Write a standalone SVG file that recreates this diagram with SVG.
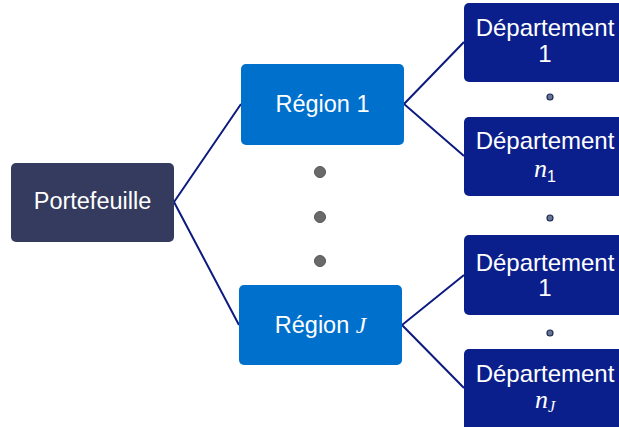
<svg xmlns="http://www.w3.org/2000/svg" width="619" height="427" viewBox="0 0 619 427">
<style>
.t{font-family:"Liberation Sans",Arial,sans-serif;fill:#ffffff;text-anchor:middle}
.m{font-family:"Liberation Serif","Times New Roman",serif;font-style:italic}
.c{stroke:#0d1a80;stroke-width:2;fill:none}
.port{fill:#343b5e}
.reg{fill:#0070cd}
.dep{fill:#0b1f8c}
.bd{fill:#6a6a6a;stroke:#555;stroke-width:1}
.sd{fill:#6a7590;stroke:#1e2a5a;stroke-width:1.2}
</style>
<rect width="619" height="427" fill="#ffffff"/>
<g id="connectors">
<polyline class="c" points="241,104 174,202 239,325"/>
<polyline class="c" points="464,42 404,104 464,156"/>
<polyline class="c" points="464,275 402,325 464,388"/>
</g>
<g id="dots">
<circle class="bd" cx="320" cy="172" r="5.5"/>
<circle class="bd" cx="320" cy="217" r="5.5"/>
<circle class="bd" cx="320" cy="261" r="5.5"/>
<circle class="sd" cx="550" cy="97" r="3"/>
<circle class="sd" cx="550" cy="218" r="3"/>
<circle class="sd" cx="550" cy="333" r="3"/>
</g>
<g id="portefeuille">
<rect class="port" x="11" y="163" width="163" height="79" rx="5"/>
<text class="t" x="92.5" y="209" font-size="23.5">Portefeuille</text>
</g>
<g id="region1">
<rect class="reg" x="241" y="64" width="163" height="81" rx="5"/>
<text class="t" x="322.5" y="112" font-size="23.5">Région 1</text>
</g>
<g id="regionJ">
<rect class="reg" x="239" y="285" width="163" height="80" rx="5"/>
<text class="t" x="320.5" y="333" font-size="23.5">Région <tspan class="m">J</tspan></text>
</g>
<g id="dep1">
<rect class="dep" x="464" y="3" width="163" height="79" rx="5"/>
<text class="t" x="545" y="36" font-size="24">Département</text>
<text class="t" x="545" y="62" font-size="24">1</text>
</g>
<g id="depn1">
<rect class="dep" x="464" y="117" width="163" height="79" rx="5"/>
<text class="t" x="545" y="149" font-size="24">Département</text>
<text class="t" x="545" y="177" font-size="16"><tspan class="m" font-size="26">n</tspan><tspan dy="5">1</tspan></text>
</g>
<g id="depJ1">
<rect class="dep" x="464" y="235" width="163" height="80" rx="5"/>
<text class="t" x="545" y="271" font-size="24">Département</text>
<text class="t" x="545" y="296" font-size="24">1</text>
</g>
<g id="depnJ">
<rect class="dep" x="464" y="349" width="163" height="82" rx="5"/>
<text class="t" x="545" y="382" font-size="24">Département</text>
<text class="t" x="545" y="408" font-size="16"><tspan class="m" font-size="26">n</tspan><tspan class="m" dy="4">J</tspan></text>
</g>
</svg>
